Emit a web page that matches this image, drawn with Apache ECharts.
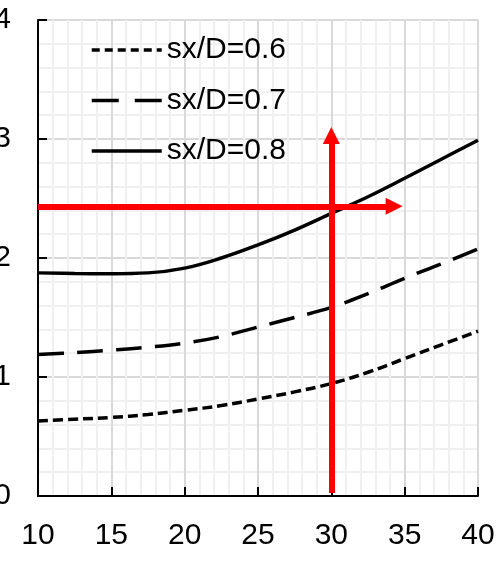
<!DOCTYPE html>
<html>
<head>
<meta charset="utf-8">
<script src="https://cdn.jsdelivr.net/npm/echarts@6/dist/echarts.min.js"></script>
<style>
html,body{margin:0;padding:0;background:#fff;}
#c{width:503px;height:566px;}
</style>
</head>
<body>
<div id="c"></div>
<script>
const xValues = [10, 12.5, 15, 17.5, 20, 22.5, 25, 27.5, 30, 32.5, 35, 37.5, 40];
const seriesNames = ['sx/D=0.6', 'sx/D=0.7', 'sx/D=0.8'];
const s06 = [0.63, 0.645, 0.66, 0.685, 0.72, 0.76, 0.815, 0.875, 0.945, 1.04, 1.155, 1.27, 1.385];
const s07 = [1.19, 1.205, 1.225, 1.25, 1.285, 1.34, 1.42, 1.50, 1.585, 1.70, 1.83, 1.95, 2.075];
const s08 = [1.875, 1.87, 1.868, 1.875, 1.915, 2.0, 2.11, 2.235, 2.375, 2.515, 2.67, 2.83, 2.99];
const xTicks = [10, 15, 20, 25, 30, 35, 40];
const yTicks = [0, 1, 2, 3, 4];
// red guide arrows (start, end-of-shaft) in data units
const arrowV = [[30, 0.025], [30, 3.03]];
const arrowH = [[10, 2.434], [34.28, 2.434]];

const FONT = "'Liberation Sans', Arial, sans-serif";
const pair = (xs, ys) => xs.map((x, i) => [x, ys[i]]);

const chart = echarts.init(document.getElementById('c'), null, {renderer: 'canvas'});
const dashStyles = [[10, 5], [26, 13], 'solid'];
const legendDash = [[8, 5], [27, 16], 'solid'];
const values = [s06, s07, s08];

const series = seriesNames.map((name, i) => ({
  name: name,
  type: 'line',
  smooth: 0.4,
  symbol: 'none',
  data: pair(xValues, values[i]),
  lineStyle: {color: '#000', width: 3.5, type: dashStyles[i], cap: 'butt'},
  itemStyle: {color: 'rgba(0,0,0,0)'},
  emphasis: {disabled: true},
  z: 3
}));

series.push({
  name: 'arrows',
  type: 'line',
  data: [],
  silent: true,
  z: 5,
  markLine: {
    silent: true,
    symbol: ['none', 'triangle'],
    symbolSize: [17, 17],
    label: {show: false},
    emphasis: {disabled: true},
    animation: false,
    lineStyle: {color: '#ff0000', width: 6, type: 'solid'},
    itemStyle: {color: '#ff0000'},
    data: [
      [{coord: arrowV[0]}, {coord: arrowV[1]}],
      [{coord: arrowH[0]}, {coord: arrowH[1]}]
    ]
  }
});

chart.setOption({
  animation: false,
  backgroundColor: '#fff',
  textStyle: {fontFamily: FONT},
  grid: {left: 38, right: 25, top: 20, bottom: 70, containLabel: false, outerBoundsMode: 'none'},
  legend: {
    data: seriesNames.map((n, i) => ({
      name: n,
      lineStyle: {color: '#000', width: 3.5, type: legendDash[i], cap: 'butt'},
      itemStyle: {opacity: 0}
    })),
    orient: 'vertical',
    left: 90,
    top: 35,
    padding: 0,
    itemWidth: 70,
    itemHeight: 14,
    itemGap: 20.5,
    itemStyle: {opacity: 0},
    textStyle: {fontFamily: FONT, fontSize: 30, color: '#000', lineHeight: 30, padding: [0, 0, 0, 0]},
    selectedMode: false
  },
  xAxis: {
    type: 'value',
    min: xTicks[0],
    max: xTicks[xTicks.length - 1],
    interval: 5,
    axisLine: {show: true, lineStyle: {color: '#000', width: 2}},
    axisTick: {show: true, inside: true, length: 9, lineStyle: {color: '#000', width: 2}},
    axisLabel: {color: '#000', fontSize: 30, fontFamily: FONT, margin: 25},
    splitLine: {show: true, lineStyle: {color: '#d9d9d9', width: 2}},
    minorTick: {show: false, splitNumber: 5},
    minorSplitLine: {show: true, lineStyle: {color: '#f0f0f0', width: 2}}
  },
  yAxis: {
    type: 'value',
    min: yTicks[0],
    max: yTicks[yTicks.length - 1],
    interval: 1,
    axisLine: {show: true, lineStyle: {color: '#000', width: 2}},
    axisTick: {show: true, inside: true, length: 9, lineStyle: {color: '#000', width: 2}},
    axisLabel: {color: '#000', fontSize: 30, fontFamily: FONT, margin: 27},
    splitLine: {show: true, lineStyle: {color: '#d9d9d9', width: 2}},
    minorTick: {show: false, splitNumber: 5},
    minorSplitLine: {show: true, lineStyle: {color: '#f0f0f0', width: 2}}
  },
  series: series
});
</script>
</body>
</html>
